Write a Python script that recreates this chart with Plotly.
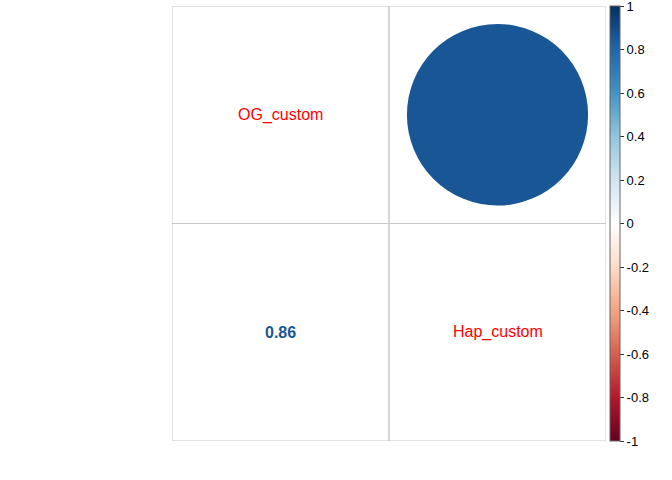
import plotly.graph_objects as go
from plotly.colors import sample_colorscale
import math

variables = ["OG_custom", "Hap_custom"]
corr = [[1.0, 0.86],
        [0.86, 1.0]]
cbar_ticks = [-1, -0.8, -0.6, -0.4, -0.2, 0, 0.2, 0.4, 0.6, 0.8, 1]

rdbu = ["#67001F", "#B2182B", "#D6604D", "#F4A582", "#FDDBC7", "#FFFFFF",
        "#D1E5F0", "#92C5DE", "#4393C3", "#2166AC", "#053061"]
cscale = [[i / (len(rdbu) - 1), c] for i, c in enumerate(rdbu)]

def col(v):
    return sample_colorscale(cscale, [(v + 1) / 2])[0]

n = len(variables)
fig = go.Figure()
shapes = []
annotations = []
for i in range(n):
    for j in range(n):
        x0, y0 = j, n - 1 - i
        shapes.append(dict(type="rect", xref="x", yref="y", x0=x0, x1=x0 + 1, y0=y0, y1=y0 + 1,
                           line=dict(color="#C8C8C8", width=1), fillcolor="rgba(0,0,0,0)", layer="below"))
        cx, cy = x0 + 0.5, y0 + 0.5
        v = corr[i][j]
        if i == j:
            annotations.append(dict(x=cx, y=cy, xref="x", yref="y", text=variables[i], showarrow=False,
                                    font=dict(color="red", size=16, family="Liberation Sans, Arial")))
        elif j > i:
            r = 0.45 * math.sqrt(abs(v))
            shapes.append(dict(type="circle", xref="x", yref="y", x0=cx - r, x1=cx + r, y0=cy - r, y1=cy + r,
                               fillcolor=col(v), line=dict(width=0), layer="above"))
        else:
            annotations.append(dict(x=cx, y=cy, xref="x", yref="y", text="<b>%.2f</b>" % v, showarrow=False,
                                    font=dict(color=col(v), size=16, family="Liberation Sans, Arial")))

fig.add_trace(go.Scatter(
    x=[None], y=[None], mode="markers", showlegend=False, hoverinfo="skip",
    marker=dict(color=[0], cmin=-1, cmax=1, colorscale=cscale, showscale=True,
                colorbar=dict(x=1.009, xanchor="left", xpad=0, y=0.5, yanchor="middle", ypad=0,
                              len=1, lenmode="fraction", thickness=10,
                              outlinewidth=1, outlinecolor="#666666",
                              tickmode="array",
                              tickvals=cbar_ticks, ticktext=["%g" % t for t in cbar_ticks],
                              ticklabeloverflow="allow",
                              ticks="outside", ticklen=4, tickcolor="#333333",
                              tickfont=dict(size=13, color="black", family="Liberation Sans, Arial")))
))

fig.update_layout(
    width=672, height=480,
    margin=dict(l=172, r=66, t=6, b=39),
    plot_bgcolor="white", paper_bgcolor="white",
    xaxis=dict(range=[0, n], visible=False, fixedrange=True),
    yaxis=dict(range=[0, n], visible=False, fixedrange=True),
    shapes=shapes, annotations=annotations,
)
fig.write_html("out.html", config={"displayModeBar": False},
               post_script="document.body.style.margin='0';document.body.style.overflow='hidden';")
